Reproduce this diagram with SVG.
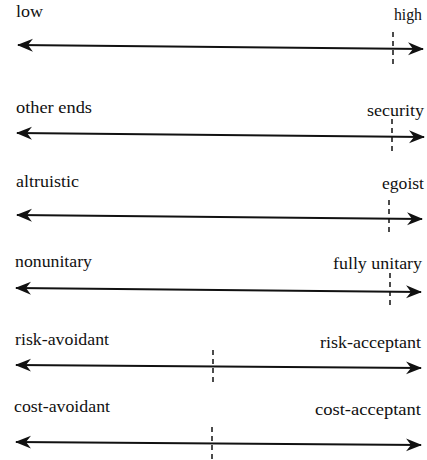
<svg xmlns="http://www.w3.org/2000/svg" width="427" height="460" viewBox="0 0 427 460">
<style>
  text { font-family: "Liberation Serif", "DejaVu Serif", serif; font-size: 16.5px; fill: #111; }
  .axis { stroke: #111; stroke-width: 1.9; fill: none; marker-start: url(#ah); marker-end: url(#ah); }
  .mark { stroke: #111; stroke-width: 1.5; stroke-dasharray: 5 4; fill: none; }
</style>
<defs>
  <marker id="ah" markerUnits="userSpaceOnUse" markerWidth="16" markerHeight="14" viewBox="0 0 16 14" refX="15" refY="7" orient="auto-start-reverse">
    <path d="M0,0.5 L16,7 L0,13.5 L5,7 Z" fill="#111"/>
  </marker>
</defs>
<rect width="427" height="460" fill="#fff"/>
<g id="connectors">
  <line class="axis" x1="18" y1="45" x2="423" y2="49"/>
  <line class="axis" x1="17" y1="133" x2="424" y2="137"/>
  <line class="axis" x1="17" y1="215" x2="422" y2="219"/>
  <line class="axis" x1="16" y1="288" x2="421" y2="292"/>
  <line class="axis" x1="16" y1="365" x2="421" y2="368"/>
  <line class="axis" x1="16" y1="442" x2="421" y2="445"/>
</g>
<g id="scale-1">
  <text x="16" y="17" textLength="27" lengthAdjust="spacingAndGlyphs">low</text>
  <text x="394" y="20" textLength="28" lengthAdjust="spacingAndGlyphs">high</text>
  <line class="mark" x1="393" y1="32" x2="393" y2="66"/>
</g>
<g id="scale-2">
  <text x="16" y="113" textLength="76" lengthAdjust="spacingAndGlyphs">other ends</text>
  <text x="367" y="116" textLength="57" lengthAdjust="spacingAndGlyphs">security</text>
  <line class="mark" x1="392" y1="119" x2="392" y2="153"/>
</g>
<g id="scale-3">
  <text x="16" y="187" textLength="63" lengthAdjust="spacingAndGlyphs">altruistic</text>
  <text x="382" y="189" textLength="42" lengthAdjust="spacingAndGlyphs">egoist</text>
  <line class="mark" x1="389" y1="200" x2="389" y2="233"/>
</g>
<g id="scale-4">
  <text x="15" y="267" textLength="77" lengthAdjust="spacingAndGlyphs">nonunitary</text>
  <text x="333" y="269" textLength="89" lengthAdjust="spacingAndGlyphs">fully unitary</text>
  <line class="mark" x1="390" y1="273" x2="390" y2="307"/>
</g>
<g id="scale-5">
  <text x="15" y="345" textLength="94" lengthAdjust="spacingAndGlyphs">risk-avoidant</text>
  <text x="320" y="348" textLength="101" lengthAdjust="spacingAndGlyphs">risk-acceptant</text>
  <line class="mark" x1="213" y1="350" x2="213" y2="384"/>
</g>
<g id="scale-6">
  <text x="14" y="412" textLength="96" lengthAdjust="spacingAndGlyphs">cost-avoidant</text>
  <text x="315" y="415" textLength="106" lengthAdjust="spacingAndGlyphs">cost-acceptant</text>
  <line class="mark" x1="212" y1="427" x2="212" y2="460"/>
</g>
</svg>
